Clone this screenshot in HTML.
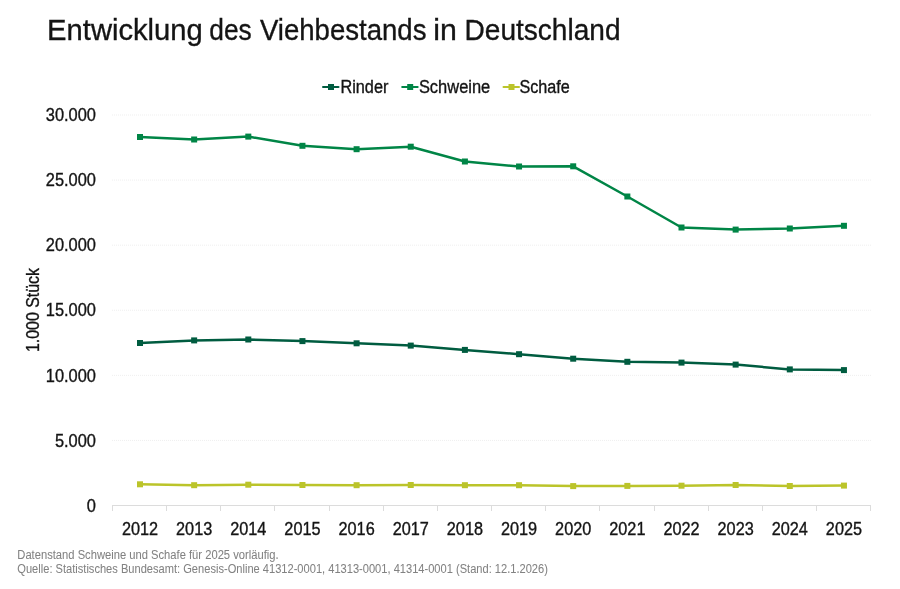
<!DOCTYPE html>
<html><head><meta charset="utf-8"><title>Entwicklung des Viehbestands in Deutschland</title>
<style>
html,body{margin:0;padding:0;background:#fff;}
body{width:900px;height:589px;overflow:hidden;font-family:"Liberation Sans", sans-serif;}
svg{display:block;font-family:"Liberation Sans", sans-serif;will-change:transform;}
.t{stroke:#141414;stroke-width:0.35px;}
.f{stroke:#828282;stroke-width:0.05px;}
</style></head><body>
<svg width="900" height="589" viewBox="0 0 900 589">
<rect width="900" height="589" fill="#fff"/>
<line x1="112" y1="440.42" x2="871" y2="440.42" stroke="#efefef" stroke-width="1" stroke-dasharray="1,1"/>
<line x1="112" y1="375.33" x2="871" y2="375.33" stroke="#efefef" stroke-width="1" stroke-dasharray="1,1"/>
<line x1="112" y1="310.25" x2="871" y2="310.25" stroke="#efefef" stroke-width="1" stroke-dasharray="1,1"/>
<line x1="112" y1="245.17" x2="871" y2="245.17" stroke="#efefef" stroke-width="1" stroke-dasharray="1,1"/>
<line x1="112" y1="180.08" x2="871" y2="180.08" stroke="#efefef" stroke-width="1" stroke-dasharray="1,1"/>
<line x1="112" y1="115.0" x2="871" y2="115.0" stroke="#efefef" stroke-width="1" stroke-dasharray="1,1"/>
<line x1="112" y1="505.5" x2="871" y2="505.5" stroke="#dcdcdc" stroke-width="1"/>
<line x1="112.5" y1="505" x2="112.5" y2="511" stroke="#dcdcdc" stroke-width="1"/>
<line x1="166.5" y1="505" x2="166.5" y2="511" stroke="#dcdcdc" stroke-width="1"/>
<line x1="220.5" y1="505" x2="220.5" y2="511" stroke="#dcdcdc" stroke-width="1"/>
<line x1="274.5" y1="505" x2="274.5" y2="511" stroke="#dcdcdc" stroke-width="1"/>
<line x1="329.5" y1="505" x2="329.5" y2="511" stroke="#dcdcdc" stroke-width="1"/>
<line x1="383.5" y1="505" x2="383.5" y2="511" stroke="#dcdcdc" stroke-width="1"/>
<line x1="437.5" y1="505" x2="437.5" y2="511" stroke="#dcdcdc" stroke-width="1"/>
<line x1="491.5" y1="505" x2="491.5" y2="511" stroke="#dcdcdc" stroke-width="1"/>
<line x1="545.5" y1="505" x2="545.5" y2="511" stroke="#dcdcdc" stroke-width="1"/>
<line x1="599.5" y1="505" x2="599.5" y2="511" stroke="#dcdcdc" stroke-width="1"/>
<line x1="654.5" y1="505" x2="654.5" y2="511" stroke="#dcdcdc" stroke-width="1"/>
<line x1="708.5" y1="505" x2="708.5" y2="511" stroke="#dcdcdc" stroke-width="1"/>
<line x1="762.5" y1="505" x2="762.5" y2="511" stroke="#dcdcdc" stroke-width="1"/>
<line x1="816.5" y1="505" x2="816.5" y2="511" stroke="#dcdcdc" stroke-width="1"/>
<line x1="870.5" y1="505" x2="870.5" y2="511" stroke="#dcdcdc" stroke-width="1"/>
<text transform="translate(96.00,511.90) scale(0.9130,1)" font-size="18" text-anchor="end" fill="#141414" class="t">0</text>
<text transform="translate(96.00,446.73) scale(0.9130,1)" font-size="18" text-anchor="end" fill="#141414" class="t">5.000</text>
<text transform="translate(96.00,381.57) scale(0.9130,1)" font-size="18" text-anchor="end" fill="#141414" class="t">10.000</text>
<text transform="translate(96.00,316.40) scale(0.9130,1)" font-size="18" text-anchor="end" fill="#141414" class="t">15.000</text>
<text transform="translate(96.00,251.23) scale(0.9130,1)" font-size="18" text-anchor="end" fill="#141414" class="t">20.000</text>
<text transform="translate(96.00,186.07) scale(0.9130,1)" font-size="18" text-anchor="end" fill="#141414" class="t">25.000</text>
<text transform="translate(96.00,120.90) scale(0.9130,1)" font-size="18" text-anchor="end" fill="#141414" class="t">30.000</text>
<text transform="translate(140.00,535.00) scale(0.9050,1)" font-size="18" text-anchor="middle" fill="#141414" class="t">2012</text>
<text transform="translate(194.15,535.00) scale(0.9050,1)" font-size="18" text-anchor="middle" fill="#141414" class="t">2013</text>
<text transform="translate(248.30,535.00) scale(0.9050,1)" font-size="18" text-anchor="middle" fill="#141414" class="t">2014</text>
<text transform="translate(302.45,535.00) scale(0.9050,1)" font-size="18" text-anchor="middle" fill="#141414" class="t">2015</text>
<text transform="translate(356.60,535.00) scale(0.9050,1)" font-size="18" text-anchor="middle" fill="#141414" class="t">2016</text>
<text transform="translate(410.75,535.00) scale(0.9050,1)" font-size="18" text-anchor="middle" fill="#141414" class="t">2017</text>
<text transform="translate(464.90,535.00) scale(0.9050,1)" font-size="18" text-anchor="middle" fill="#141414" class="t">2018</text>
<text transform="translate(519.05,535.00) scale(0.9050,1)" font-size="18" text-anchor="middle" fill="#141414" class="t">2019</text>
<text transform="translate(573.20,535.00) scale(0.9050,1)" font-size="18" text-anchor="middle" fill="#141414" class="t">2020</text>
<text transform="translate(627.35,535.00) scale(0.9050,1)" font-size="18" text-anchor="middle" fill="#141414" class="t">2021</text>
<text transform="translate(681.50,535.00) scale(0.9050,1)" font-size="18" text-anchor="middle" fill="#141414" class="t">2022</text>
<text transform="translate(735.65,535.00) scale(0.9050,1)" font-size="18" text-anchor="middle" fill="#141414" class="t">2023</text>
<text transform="translate(789.80,535.00) scale(0.9050,1)" font-size="18" text-anchor="middle" fill="#141414" class="t">2024</text>
<text transform="translate(843.95,535.00) scale(0.9050,1)" font-size="18" text-anchor="middle" fill="#141414" class="t">2025</text>
<polyline points="140.00,484.30 194.15,485.20 248.30,484.70 302.45,485.00 356.60,485.20 410.75,485.00 464.90,485.20 519.05,485.20 573.20,486.10 627.35,485.90 681.50,485.70 735.65,485.00 789.80,486.00 843.95,485.60" fill="none" stroke="#bbc42a" stroke-width="2.5" stroke-linejoin="round"/>
<rect x="137.00" y="481.30" width="6" height="6" fill="#bbc42a"/>
<rect x="191.15" y="482.20" width="6" height="6" fill="#bbc42a"/>
<rect x="245.30" y="481.70" width="6" height="6" fill="#bbc42a"/>
<rect x="299.45" y="482.00" width="6" height="6" fill="#bbc42a"/>
<rect x="353.60" y="482.20" width="6" height="6" fill="#bbc42a"/>
<rect x="407.75" y="482.00" width="6" height="6" fill="#bbc42a"/>
<rect x="461.90" y="482.20" width="6" height="6" fill="#bbc42a"/>
<rect x="516.05" y="482.20" width="6" height="6" fill="#bbc42a"/>
<rect x="570.20" y="483.10" width="6" height="6" fill="#bbc42a"/>
<rect x="624.35" y="482.90" width="6" height="6" fill="#bbc42a"/>
<rect x="678.50" y="482.70" width="6" height="6" fill="#bbc42a"/>
<rect x="732.65" y="482.00" width="6" height="6" fill="#bbc42a"/>
<rect x="786.80" y="483.00" width="6" height="6" fill="#bbc42a"/>
<rect x="840.95" y="482.60" width="6" height="6" fill="#bbc42a"/>
<polyline points="140.00,343.00 194.15,340.40 248.30,339.50 302.45,341.10 356.60,343.30 410.75,345.60 464.90,349.90 519.05,354.20 573.20,358.70 627.35,361.80 681.50,362.60 735.65,364.60 789.80,369.40 843.95,370.10" fill="none" stroke="#005c40" stroke-width="2.5" stroke-linejoin="round"/>
<rect x="137.00" y="340.00" width="6" height="6" fill="#005c40"/>
<rect x="191.15" y="337.40" width="6" height="6" fill="#005c40"/>
<rect x="245.30" y="336.50" width="6" height="6" fill="#005c40"/>
<rect x="299.45" y="338.10" width="6" height="6" fill="#005c40"/>
<rect x="353.60" y="340.30" width="6" height="6" fill="#005c40"/>
<rect x="407.75" y="342.60" width="6" height="6" fill="#005c40"/>
<rect x="461.90" y="346.90" width="6" height="6" fill="#005c40"/>
<rect x="516.05" y="351.20" width="6" height="6" fill="#005c40"/>
<rect x="570.20" y="355.70" width="6" height="6" fill="#005c40"/>
<rect x="624.35" y="358.80" width="6" height="6" fill="#005c40"/>
<rect x="678.50" y="359.60" width="6" height="6" fill="#005c40"/>
<rect x="732.65" y="361.60" width="6" height="6" fill="#005c40"/>
<rect x="786.80" y="366.40" width="6" height="6" fill="#005c40"/>
<rect x="840.95" y="367.10" width="6" height="6" fill="#005c40"/>
<polyline points="140.00,137.00 194.15,139.50 248.30,136.60 302.45,145.80 356.60,149.20 410.75,146.70 464.90,161.50 519.05,166.50 573.20,166.30 627.35,196.50 681.50,227.50 735.65,229.60 789.80,228.50 843.95,225.80" fill="none" stroke="#008546" stroke-width="2.5" stroke-linejoin="round"/>
<rect x="137.00" y="134.00" width="6" height="6" fill="#008546"/>
<rect x="191.15" y="136.50" width="6" height="6" fill="#008546"/>
<rect x="245.30" y="133.60" width="6" height="6" fill="#008546"/>
<rect x="299.45" y="142.80" width="6" height="6" fill="#008546"/>
<rect x="353.60" y="146.20" width="6" height="6" fill="#008546"/>
<rect x="407.75" y="143.70" width="6" height="6" fill="#008546"/>
<rect x="461.90" y="158.50" width="6" height="6" fill="#008546"/>
<rect x="516.05" y="163.50" width="6" height="6" fill="#008546"/>
<rect x="570.20" y="163.30" width="6" height="6" fill="#008546"/>
<rect x="624.35" y="193.50" width="6" height="6" fill="#008546"/>
<rect x="678.50" y="224.50" width="6" height="6" fill="#008546"/>
<rect x="732.65" y="226.60" width="6" height="6" fill="#008546"/>
<rect x="786.80" y="225.50" width="6" height="6" fill="#008546"/>
<rect x="840.95" y="222.80" width="6" height="6" fill="#008546"/>
<text x="47.10" y="40.30" font-size="30" fill="#141414" class="t" textLength="155.65" lengthAdjust="spacingAndGlyphs">Entwicklung</text>
<text x="209.30" y="40.30" font-size="30" fill="#141414" class="t" textLength="42.40" lengthAdjust="spacingAndGlyphs">des</text>
<text x="259.90" y="40.30" font-size="30" fill="#141414" class="t" textLength="166.60" lengthAdjust="spacingAndGlyphs">Viehbestands</text>
<text x="433.30" y="40.30" font-size="30" fill="#141414" class="t" textLength="23.61" lengthAdjust="spacingAndGlyphs">in</text>
<text x="464.50" y="40.30" font-size="30" fill="#141414" class="t" textLength="156.04" lengthAdjust="spacingAndGlyphs">Deutschland</text>
<line x1="323" y1="87" x2="338.5" y2="87" stroke="#005c40" stroke-width="2" stroke-linecap="round"/>
<rect x="328" y="84" width="6" height="6" fill="#005c40"/>
<text x="340.40" y="92.60" font-size="17.6" text-anchor="start" fill="#141414" class="t" textLength="48.00" lengthAdjust="spacingAndGlyphs">Rinder</text>
<line x1="402.2" y1="87" x2="417.7" y2="87" stroke="#008546" stroke-width="2" stroke-linecap="round"/>
<rect x="407.2" y="84" width="6" height="6" fill="#008546"/>
<text x="418.90" y="92.60" font-size="17.6" text-anchor="start" fill="#141414" class="t" textLength="71.40" lengthAdjust="spacingAndGlyphs">Schweine</text>
<line x1="503.5" y1="87" x2="519.0" y2="87" stroke="#bbc42a" stroke-width="2" stroke-linecap="round"/>
<rect x="508.5" y="84" width="6" height="6" fill="#bbc42a"/>
<text x="519.40" y="92.60" font-size="17.6" text-anchor="start" fill="#141414" class="t" textLength="50.40" lengthAdjust="spacingAndGlyphs">Schafe</text>
<text transform="translate(39.20,310.00) rotate(-90)" x="0" y="0" font-size="18" text-anchor="middle" fill="#141414" class="t" textLength="84.00" lengthAdjust="spacingAndGlyphs">1.000 Stück</text>
<text x="17.30" y="558.80" font-size="12" text-anchor="start" fill="#828282" class="f" textLength="261.30" lengthAdjust="spacingAndGlyphs">Datenstand Schweine und Schafe für 2025 vorläufig.</text>
<text x="17.30" y="572.80" font-size="12" text-anchor="start" fill="#828282" class="f" textLength="530.60" lengthAdjust="spacingAndGlyphs">Quelle: Statistisches Bundesamt: Genesis-Online 41312-0001, 41313-0001, 41314-0001 (Stand: 12.1.2026)</text>
</svg>
</body></html>
